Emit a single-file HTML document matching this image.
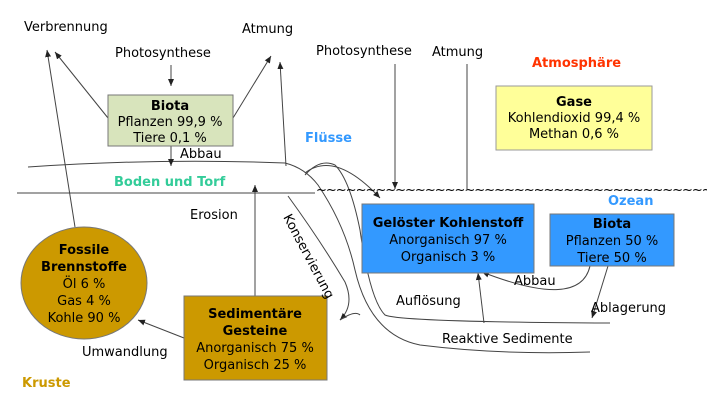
<!DOCTYPE html>
<html><head><meta charset="utf-8"><style>
html,body{margin:0;padding:0;background:#fff}
svg{display:block}
text{font-family:"DejaVu Sans","Liberation Sans",sans-serif;font-size:13px;fill:#000}
.b{font-weight:bold}
</style></head><body>
<svg width="707" height="416" viewBox="0 0 707 416" xmlns="http://www.w3.org/2000/svg">
<defs><marker id="a" markerWidth="8" markerHeight="8" refX="7" refY="4" orient="auto" markerUnits="userSpaceOnUse"><path d="M0,1 L7,4 L0,7 z" fill="#222"/></marker></defs>
<g stroke="#444" stroke-width="1" fill="none">
<!-- ground lines -->
<path d="M28,167 Q160,158 285,163 Q305,168 318,185 Q345,225 355,270 Q370,335 420,345 Q500,355 590,352"/>
<path d="M17,193 L315,193"/>
<path d="M305,175 Q320,158 335,165 Q350,180 360,230 Q370,300 385,315 Q400,322 610,323"/>
<path d="M288,196 Q320,240 345,282 Q355,305 340,320" marker-end="url(#a)"/>
<path d="M340,320 Q355,310 360,315"/>
<!-- arrows -->
<path d="M108,118 L55,52" marker-end="url(#a)"/>
<path d="M75,227 L47,50" marker-end="url(#a)"/>
<path d="M233,118 L271,56" marker-end="url(#a)"/>
<path d="M286,166 L280,62" marker-end="url(#a)"/>
<path d="M171,65 L171,86" marker-end="url(#a)"/>
<path d="M171,146 L171,166" marker-end="url(#a)"/>
<path d="M255,296 L255,185" marker-end="url(#a)"/>
<path d="M184,338 L138,320" marker-end="url(#a)"/>
<path d="M395,64 L395,189" marker-end="url(#a)"/>
<path d="M467,64 L467,189"/>
<path d="M305,173 Q335,150 380,198" marker-end="url(#a)"/>
<path d="M484,323 L478,273" marker-end="url(#a)"/>
<path d="M590,266 Q580,310 482,272" marker-end="url(#a)"/>
<path d="M608,266 L592,318" marker-end="url(#a)"/>
</g>
<text x="316" y="194" font-size="12" style="letter-spacing:-1px">~~~~~~~~~~~~~~~~~~~~~~~~~~~~~~~~~~~~~~~~</text>
<!-- boxes -->
<rect x="108" y="95" width="125" height="51" fill="#d8e4bc" stroke="#777"/>
<text x="170" y="110" text-anchor="middle" class="b">Biota</text>
<text x="170" y="126" text-anchor="middle">Pflanzen 99,9 %</text>
<text x="170" y="142" text-anchor="middle">Tiere 0,1 %</text>
<rect x="496" y="86" width="156" height="64" fill="#ffff99" stroke="#999"/>
<text x="574" y="106" text-anchor="middle" class="b">Gase</text>
<text x="574" y="122" text-anchor="middle">Kohlendioxid 99,4 %</text>
<text x="574" y="138" text-anchor="middle">Methan 0,6 %</text>
<rect x="362" y="204" width="172" height="69" fill="#3399ff" stroke="#777"/>
<text x="448" y="227" text-anchor="middle" class="b">Gelöster Kohlenstoff</text>
<text x="448" y="244" text-anchor="middle">Anorganisch 97 %</text>
<text x="448" y="261" text-anchor="middle">Organisch 3 %</text>
<rect x="550" y="214" width="124" height="52" fill="#3399ff" stroke="#777"/>
<text x="612" y="228" text-anchor="middle" class="b">Biota</text>
<text x="612" y="245" text-anchor="middle">Pflanzen 50 %</text>
<text x="612" y="262" text-anchor="middle">Tiere 50 %</text>
<rect x="184" y="296" width="143" height="84" fill="#cc9900" stroke="#777"/>
<text x="255" y="318" text-anchor="middle" class="b">Sedimentäre</text>
<text x="255" y="335" text-anchor="middle" class="b">Gesteine</text>
<text x="255" y="352" text-anchor="middle">Anorganisch 75 %</text>
<text x="255" y="369" text-anchor="middle">Organisch 25 %</text>
<ellipse cx="84" cy="283" rx="63" ry="56" fill="#cc9900" stroke="#777"/>
<text x="84" y="254" text-anchor="middle" class="b">Fossile</text>
<text x="84" y="271" text-anchor="middle" class="b">Brennstoffe</text>
<text x="84" y="288" text-anchor="middle">Öl 6 %</text>
<text x="84" y="305" text-anchor="middle">Gas 4 %</text>
<text x="84" y="322" text-anchor="middle">Kohle 90 %</text>
<!-- labels -->
<text x="24" y="31">Verbrennung</text>
<text x="115" y="57">Photosynthese</text>
<text x="242" y="33">Atmung</text>
<text x="316" y="55">Photosynthese</text>
<text x="432" y="56">Atmung</text>
<text x="532" y="67" class="b" style="fill:#ff3300">Atmosphäre</text>
<text x="305" y="142" class="b" style="fill:#3399ff">Flüsse</text>
<text x="180" y="158">Abbau</text>
<text x="114" y="186" class="b" style="fill:#33cc99">Boden und Torf</text>
<text x="608" y="205" class="b" style="fill:#3399ff">Ozean</text>
<text x="190" y="219">Erosion</text>
<text transform="translate(283,217) rotate(62)">Konservierung</text>
<text x="396" y="305">Auflösung</text>
<text x="514" y="285">Abbau</text>
<text x="591" y="312">Ablagerung</text>
<text x="442" y="343">Reaktive Sedimente</text>
<text x="82" y="356">Umwandlung</text>
<text x="22" y="387" class="b" style="fill:#cc9900">Kruste</text>
</svg>
</body></html>
